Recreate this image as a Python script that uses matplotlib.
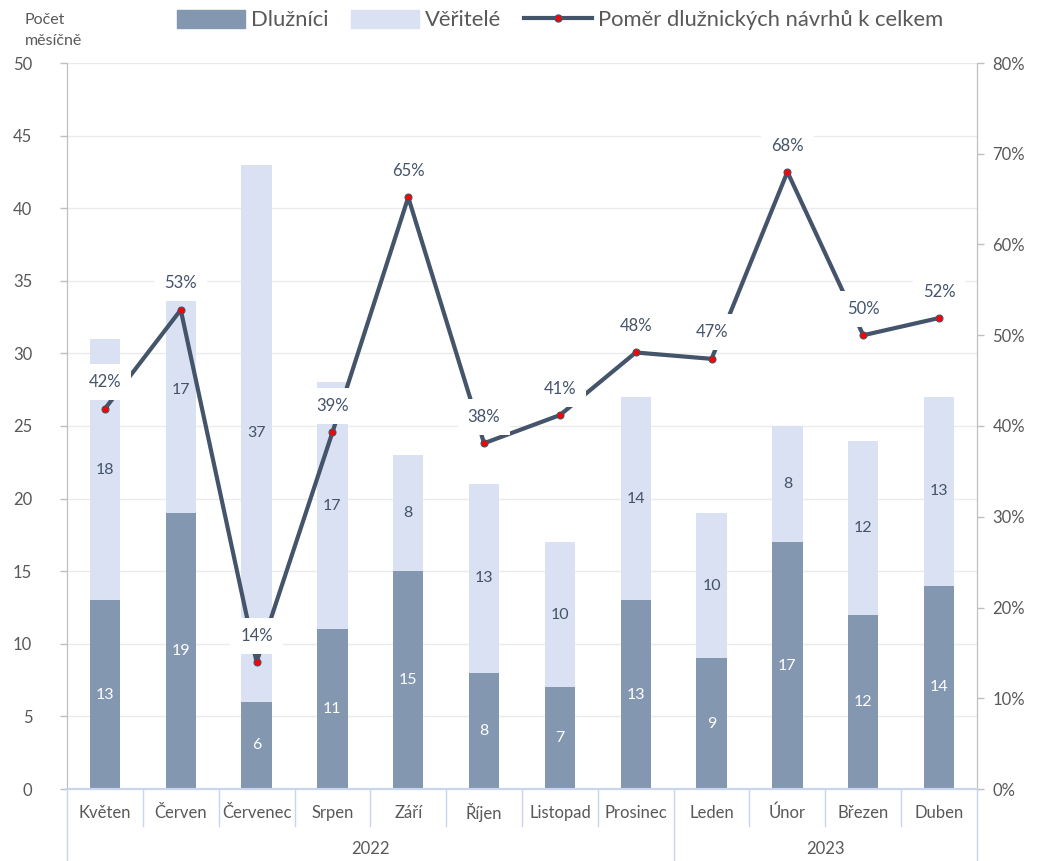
import matplotlib
matplotlib.use("Agg")
import matplotlib.pyplot as plt
from matplotlib.lines import Line2D
from matplotlib.patches import Patch
from matplotlib.ticker import PercentFormatter
import matplotlib.transforms as mtrans
import numpy as np

months = ["Květen", "Červen", "Červenec", "Srpen", "Září", "Říjen", "Listopad",
          "Prosinec", "Leden", "Únor", "Březen", "Duben"]
years = ["2022", "2023"]
year_counts = [8, 4]
dluznici = [13, 19, 6, 11, 15, 8, 7, 13, 9, 17, 12, 14]
veritele = [18, 17, 37, 17, 8, 13, 10, 14, 10, 8, 12, 13]
pomer = [0.419, 0.528, 0.140, 0.393, 0.652, 0.381, 0.412, 0.481, 0.474, 0.680, 0.500, 0.519]

plt.rcParams['font.family'] = ['Lato', 'DejaVu Sans']
C_D = "#8497B0"
C_V = "#D9E1F2"
C_L = "#44546A"
C_T = "#595959"
C_SEP = "#C9D5EC"

fig = plt.figure(figsize=(10.38, 8.61), dpi=100)
ax = fig.add_axes([67/1038, 1-789/861, (977-67)/1038, (789-63)/861])
ax2 = ax.twinx()

x = np.arange(len(months))
w = 0.4
ax.bar(x, dluznici, w, color=C_D, zorder=2)
ax.bar(x, veritele, w, bottom=dluznici, color=C_V, zorder=2)
for i in range(len(months)):
    ax.text(x[i], dluznici[i]/2, str(dluznici[i]), ha='center', va='center',
            color='white', fontsize=11.5, zorder=3)
    ax.text(x[i], dluznici[i] + veritele[i]/2, str(veritele[i]), ha='center', va='center',
            color=C_L, fontsize=11.5, zorder=3)

ax.set_xlim(-0.5, len(months)-0.5)
ax.set_ylim(0, 50)
ax.set_yticks(np.arange(0, 51, 5))
ax.grid(axis='y', color='#EBEBEB', linewidth=1, zorder=0)
ax.set_axisbelow(True)
ax.set_xticks([])

ax2.plot(x, pomer, color=C_L, lw=3, zorder=4, marker='o', markersize=5,
         markerfacecolor='red', markeredgecolor=C_L, markeredgewidth=0.8)
ax2.set_ylim(0, 0.8)
ax2.set_yticks(np.arange(0, 0.81, 0.1))
ax2.yaxis.set_major_formatter(PercentFormatter(1.0, decimals=0))
for i in range(len(months)):
    ax2.annotate(f"{round(pomer[i]*100):d}%", (x[i], pomer[i]), xytext=(0, 19),
                 textcoords='offset points', ha='center', va='center', fontsize=12,
                 color=C_L, zorder=5,
                 bbox=dict(boxstyle='square,pad=0.6', fc='white', ec='none'))
ax.set_zorder(1)
ax2.set_zorder(2)
ax2.patch.set_visible(False)

for a in (ax, ax2):
    a.spines['top'].set_visible(False)
    a.spines['bottom'].set_color(C_SEP)
    a.spines['left'].set_color('#BFBFBF')
    a.spines['right'].set_color('#BFBFBF')
    a.tick_params(axis='y', colors='#BFBFBF', labelcolor=C_T, labelsize=12, length=5, width=1)
    a.spines['bottom'].set_linewidth(1.5)
ax.tick_params(axis='y', pad=20)
ax2.tick_params(axis='y', pad=6)
ax.tick_params(axis='x', length=0)
ax2.tick_params(axis='x', length=0)

# category axis
tr = mtrans.blended_transform_factory(ax.transData, fig.transFigure)
y0 = 1 - 789/861
y_m = 1 - 826/861
y_y = 0.0
for b in range(len(months)+1):
    xb = b - 0.5
    is_year = b == 0 or b == len(months) or b == year_counts[0]
    fig.add_artist(Line2D([xb, xb], [y0, y_y if is_year else y_m], transform=tr,
                          color=C_SEP, lw=1))
for i, m in enumerate(months):
    fig.text(x[i], 1 - 813/861, m, transform=tr, ha='center', va='center',
             fontsize=12, color=C_T)
start = 0
for yr, n in zip(years, year_counts):
    fig.text(start + (n-1)/2, 1 - 849/861, yr, transform=tr, ha='center', va='center',
             fontsize=12, color=C_T)
    start += n

fig.text(25/1038, 1 - 20/861, "Počet", ha='left', va='center', fontsize=11.5, color=C_T)
fig.text(25/1038, 1 - 41/861, "měsíčně", ha='left', va='center', fontsize=11.5, color=C_T)

handles = [Patch(color=C_D), Patch(color=C_V),
           Line2D([0], [0], color=C_L, lw=3, marker='o', markersize=5,
                  markerfacecolor='red', markeredgecolor=C_L)]
labels = ["Dlužníci", "Věřitelé", "Poměr dlužnických návrhů k celkem"]
fig.legend(handles, labels, loc='center', bbox_to_anchor=(560/1038, 1 - 20/861), ncol=3,
           frameon=False, fontsize=15.8, labelcolor=C_T, handlelength=3.1,
           handleheight=0.9, handletextpad=0.3, columnspacing=1.0)

fig.savefig("out.png", dpi=100)
